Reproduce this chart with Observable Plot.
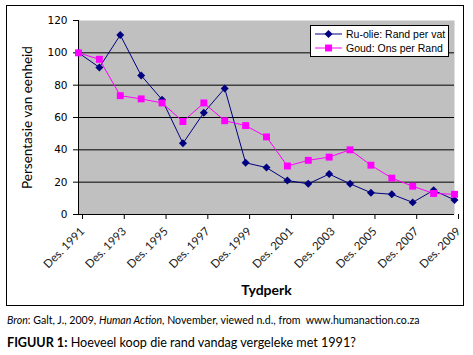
<!DOCTYPE html>
<html>
<head>
<meta charset="utf-8">
<script src="https://cdn.jsdelivr.net/npm/d3@7"></script>
<script src="https://cdn.jsdelivr.net/npm/@observablehq/plot@0.6"></script>
<style>
  html, body { margin: 0; padding: 0; background: #fff; }
  #page { position: relative; width: 473px; height: 355px; overflow: hidden; background: #fff; }
  #chart { position: absolute; left: 6px; top: 5px; width: 456px; height: 299px; border: 1px solid #000; }
  #legend { position: absolute; left: 310px; top: 25px; width: 137px; height: 30px; background: #fff; border: 1px solid #000;
            font-family: "Liberation Sans", Arial, sans-serif; font-size: 10.5px; color: #000; }
  #legend .row { position: absolute; left: 4px; height: 14px; line-height: 14px; display: flex; align-items: center; white-space: nowrap; }
  #legend svg { margin-right: 4px; }
  .cap { position: absolute; left: 7px; white-space: nowrap; font-family: Lato, "Open Sans", sans-serif; color: #000; }
  #src { top: 313px; font-size: 10.6px; line-height: 14px; }
  #fig { top: 335px; font-size: 12.6px; line-height: 16px; }
</style>
</head>
<body>
<div id="page">
  <div id="chart"></div>
  <div id="legend"></div>
  <div class="cap" id="src"><i>Bron</i>: Galt, J., 2009, <i>Human Action</i>, November, viewed n.d., from&nbsp; www.humanaction.co.za</div>
  <div class="cap" id="fig"><b>FIGUUR 1:</b> Hoeveel koop die rand vandag vergeleke met 1991?</div>
</div>
<script>
// ---- data ----
const years = [1991,1992,1993,1994,1995,1996,1997,1998,1999,2000,2001,2002,2003,2004,2005,2006,2007,2008,2009];
const ruOlie = [100,91,111,86,71,44,63,78,32,29,21,19,25,19,13.5,12.5,7.5,15,9];
const goud   = [100,96,73.5,71.5,69,57.5,69,58,55,48,30,33.5,35.5,40,30.5,22.5,17.5,13,12.5];
const seriesNames = ["Ru-olie: Rand per vat", "Goud: Ons per Rand"];
const seriesColors = ["#000080", "#FF00FF"];
const xTicks = [1991,1993,1995,1997,1999,2001,2003,2005,2007,2009];
const yTicks = [0,20,40,60,80,100,120];
const gridValues = [20,40,60,80,100];
const xTickPrefix = "Des. ";
const yTitle = "Persentasie van eenheid";
const xTitle = "Tydperk";

const oil = years.map((y, i) => ({year: y, value: ruOlie[i]}));
const gold = years.map((y, i) => ({year: y, value: goud[i]}));

const diamond = d3.symbolDiamond2 || d3.symbolDiamond;

const chart = Plot.plot({
  width: 456,
  height: 299,
  marginLeft: 71,
  marginRight: 9,
  marginTop: 14,
  marginBottom: 91,
  style: {background: "transparent", overflow: "visible"},
  x: {type: "linear", domain: [1991, 2009]},
  y: {domain: [0, 120]},
  marks: [
    Plot.frame({fill: "#C0C0C0", stroke: null}),
    Plot.ruleY(gridValues, {stroke: "#000", strokeWidth: 1}),
    Plot.ruleY([0], {stroke: "#000"}),
    Plot.ruleX([1991], {stroke: "#000"}),
    Plot.axisY({
      ticks: yTicks, tickSize: 5, tickPadding: 6, stroke: "#000",
      fontFamily: "DejaVu Sans, Verdana, sans-serif", fontSize: 10.5, fill: "#000",
      label: null
    }),
    Plot.axisY({
      ticks: [], label: yTitle, labelAnchor: "center", labelOffset: 56, labelArrow: "none",
      fontFamily: "Lato, sans-serif", fontSize: 13.5, fill: "#000"
    }),
    Plot.axisX({
      ticks: xTicks, tickSize: 5, tickPadding: 10, tickRotate: -45, stroke: "#000",
      tickFormat: d => xTickPrefix + d, dx: 4,
      fontFamily: "Lato, sans-serif", fontSize: 11.5, fill: "#1a1a1a",
      label: null
    }),
    Plot.axisX({
      ticks: [], label: xTitle, labelAnchor: "center", labelOffset: 80, labelArrow: "none",
      fontFamily: "Lato, sans-serif", fontSize: 14, fontWeight: "bold", fill: "#000"
    }),
    Plot.line(oil, {x: "year", y: "value", stroke: seriesColors[0], strokeWidth: 1}),
    Plot.dot(oil, {x: "year", y: "value", symbol: diamond, r: 3.6, fill: seriesColors[0], stroke: null}),
    Plot.line(gold, {x: "year", y: "value", stroke: seriesColors[1], strokeWidth: 1}),
    Plot.dot(gold, {x: "year", y: "value", symbol: "square", r: 3.9, fill: seriesColors[1], stroke: null})
  ]
});
document.getElementById("chart").appendChild(chart);

// legend (HTML)
const legend = document.getElementById("legend");
const symbolsForLegend = [diamond, d3.symbolSquare];
const sizes = [3.6, 3.9];
seriesNames.forEach((name, i) => {
  const row = document.createElement("div");
  row.className = "row";
  row.style.top = (i === 0 ? 1 : 15) + "px";
  const sw = d3.create("svg").attr("width", 27).attr("height", 12);
  sw.append("line").attr("x1", 0).attr("x2", 27).attr("y1", 6).attr("y2", 6).attr("stroke", seriesColors[i]).attr("stroke-width", 1);
  sw.append("path").attr("transform", "translate(13.5,6)")
    .attr("d", d3.symbol(symbolsForLegend[i], sizes[i] * sizes[i] * Math.PI)())
    .attr("fill", seriesColors[i]);
  row.appendChild(sw.node());
  const span = document.createElement("span");
  span.textContent = name;
  row.appendChild(span);
  legend.appendChild(row);
});
</script>
</body>
</html>
